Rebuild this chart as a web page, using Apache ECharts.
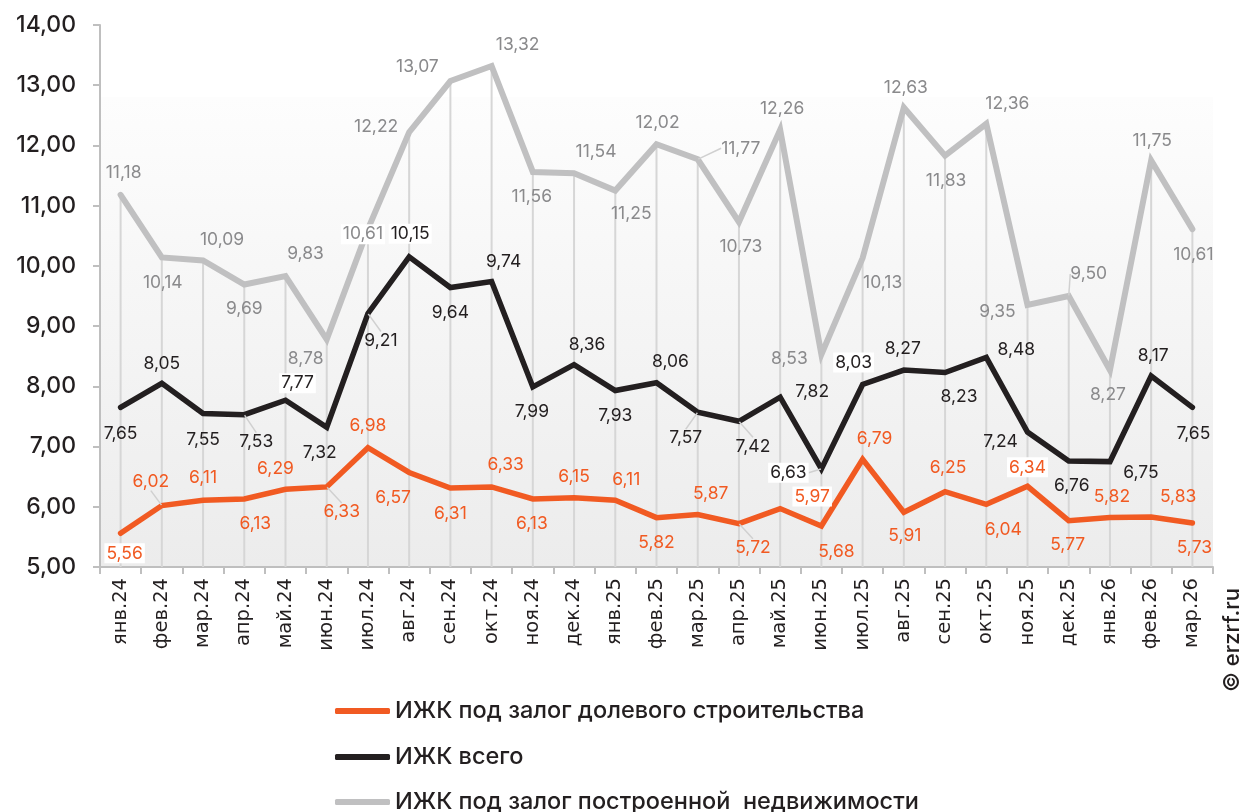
<!DOCTYPE html>
<html>
<head>
<meta charset="utf-8">
<script src="https://cdn.jsdelivr.net/npm/echarts@6/dist/echarts.min.js"></script>
<style>
  html, body { margin: 0; padding: 0; background: #fff; }
  #chart { width: 1244px; height: 812px; }
</style>
</head>
<body>
<div id="chart"></div>
<script>
// Месяцы
const months = ['янв.24','фев.24','мар.24','апр.24','май.24','июн.24','июл.24','авг.24','сен.24','окт.24','ноя.24','дек.24',
                'янв.25','фев.25','мар.25','апр.25','май.25','июн.25','июл.25','авг.25','сен.25','окт.25','ноя.25','дек.25',
                'янв.26','фев.26','мар.26'];

// ИЖК под залог долевого строительства
const ddu = [5.56, 6.02, 6.11, 6.13, 6.29, 6.33, 6.98, 6.57, 6.31, 6.33, 6.13, 6.15,
             6.11, 5.82, 5.87, 5.72, 5.97, 5.68, 6.79, 5.91, 6.25, 6.04, 6.34, 5.77,
             5.82, 5.83, 5.73];
// ИЖК всего
const total = [7.65, 8.05, 7.55, 7.53, 7.77, 7.32, 9.21, 10.15, 9.64, 9.74, 7.99, 8.36,
               7.93, 8.06, 7.57, 7.42, 7.82, 6.63, 8.03, 8.27, 8.23, 8.48, 7.24, 6.76,
               6.75, 8.17, 7.65];
// ИЖК под залог построенной недвижимости
const built = [11.18, 10.14, 10.09, 9.69, 9.83, 8.78, 10.61, 12.22, 13.07, 13.32, 11.56, 11.54,
               11.25, 12.02, 11.77, 10.73, 12.26, 8.53, 10.13, 12.63, 11.83, 12.36, 9.35, 9.50,
               8.27, 11.75, 10.61];

// Y-axis ticks
const yTicks = [5, 6, 7, 8, 9, 10, 11, 12, 13, 14];

const seriesNames = ['ИЖК под залог долевого строительства', 'ИЖК всего', 'ИЖК под залог построенной  недвижимости'];

// Label placement (offset of label centre from the point, px)
const offDdu = [[4,20],[-11,-24],[0,-22],[11,25],[-10,-21],[15,25],[0,-22],[-16,25],[0,26],[14,-22],[-1,25],[0,-21],
                [11,-20],[0,25],[13,-21],[14,24],[32,-12],[15,26],[12,-20],[1,24],[3,-24],[17,25],[0,-19],[-1,24],
                [2,-21],[27,-20],[2,25]];
const offTotal = [[0,26],[0,-20],[0,26],[12,27],[12,-17],[-7,25],[13,27],[1,-23],[0,25],[12,-20],[-1,25],[13,-20],
                  [0,25],[14,-21],[-12,26],[14,25],[32,-5],[-33,4],[-9,-22],[-1,-21],[14,24],[30,-8],[-27,10],[3,25],
                  [31,11],[2,-20],[1,26]];
const offBuilt = [[3,-22],[1,25],[19,-21],[0,24],[20,-22],[-21,19],[-5,5],[-33,-5],[-33,-14],[26,-21],[-1,25],[22,-21],
                  [16,23],[1,-22],[43,-11],[2,25],[2,-21],[-32,4],[20,25],[2,-20],[1,25],[21,-20],[-30,7],[20,-22],
                  [-2,25],[1,-20],[1,26]];
const leaders = { 0: [1, 5, 15], 1: [3, 6, 14, 15, 17], 2: [14, 23] };
const boxed = { 0: [0, 16, 22], 1: [4, 7, 17, 18], 2: [6] };
const offsets = [offDdu, offTotal, offBuilt];

const fmt = v => v.toFixed(2).replace('.', ',');
const numFont = 'Inter';

function lineSeries(idx, name, values, color, width, labelColor) {
  return {
    name: name,
    type: 'line',
    z: 3 + idx,
    data: values.map((v, i) => {
      const item = { value: v };
      if (leaders[idx].includes(i)) item.labelLine = { show: true };
      if (boxed[idx].includes(i)) item.label = { backgroundColor: '#ffffff', padding: [1, 2] };
      return item;
    }),
    symbol: 'circle',
    symbolSize: 1,
    showSymbol: true,
    itemStyle: { color: color },
    lineStyle: { color: color, width: width, cap: 'round', join: 'miter' },
    emphasis: { disabled: true },
    label: {
      show: true,
      position: 'inside',
      formatter: p => fmt(p.value),
      color: labelColor,
      fontFamily: numFont,
      fontSize: 17.5,
      align: 'center',
      verticalAlign: 'middle'
    },
    labelLine: { show: false, lineStyle: { color: '#d0d0d0', width: 1.5 } },
    labelLayout: p => {
      const o = offsets[idx][p.dataIndex];
      return { dx: o[0], dy: o[1] };
    }
  };
}

// One legend row per series, stacked under the axis
function legendRow(name, top) {
  return {
    data: [name],
    left: 330,
    top: top,
    itemWidth: 55,
    itemHeight: 6,
    icon: 'roundRect',
    selectedMode: false,
    textStyle: { fontFamily: numFont, fontSize: 23.5, fontWeight: 500, color: '#231f20' }
  };
}

// Drop lines from the highest point of each month down to the axis
const dropTop = months.map((m, i) => Math.max(ddu[i], total[i], built[i]));

const chart = echarts.init(document.getElementById('chart'), null, { renderer: 'canvas' });

chart.setOption({
  animation: false,
  backgroundColor: '#ffffff',
  grid: {
    left: 100, right: 31, top: 25, bottom: 245,
    show: true,
    borderWidth: 0,
    backgroundColor: new echarts.graphic.LinearGradient(0, 0, 0, 1, [
      { offset: 0, color: '#ffffff' },
      { offset: 0.132, color: '#ffffff' },
      { offset: 0.134, color: '#fdfdfd' },
      { offset: 1, color: '#ececec' }
    ])
  },
  legend: [
    legendRow(seriesNames[0], 694),
    legendRow(seriesNames[1], 740),
    legendRow(seriesNames[2], 785)
  ],
  xAxis: {
    type: 'category',
    data: months,
    boundaryGap: true,
    axisLine: { lineStyle: { color: '#bfbfbf', width: 2 } },
    axisTick: { show: true, length: 7, lineStyle: { color: '#bfbfbf', width: 2 } },
    axisLabel: {
      rotate: 90,
      margin: 11,
      interval: 0,
      fontFamily: 'DejaVu Sans',
      fontSize: 19.5,
      color: '#231f20'
    },
    splitLine: { show: false }
  },
  yAxis: {
    type: 'value',
    min: yTicks[0],
    max: yTicks[yTicks.length - 1],
    interval: 1,
    axisLine: { show: true, lineStyle: { color: '#bfbfbf', width: 2 } },
    axisTick: { show: true, length: 7, lineStyle: { color: '#bfbfbf', width: 2 } },
    axisLabel: {
      margin: 24,
      fontFamily: numFont,
      fontSize: 23,
      fontWeight: 500,
      color: '#231f20',
      formatter: v => fmt(v)
    },
    splitLine: { show: false }
  },
  series: [
    {
      name: 'drop',
      type: 'bar',
      data: dropTop,
      barWidth: 2,
      z: 1,
      itemStyle: { color: '#d6d6d6' },
      emphasis: { disabled: true },
      silent: true
    },
    lineSeries(0, seriesNames[0], ddu, '#f15a22', 5.5, '#f15a22'),
    lineSeries(1, seriesNames[1], total, '#231f20', 5.5, '#231f20'),
    lineSeries(2, seriesNames[2], built, '#c0c0c1', 6, '#8a8a8c')
  ],
  graphic: [{
    type: 'text',
    right: 1,
    top: 588,
    rotation: Math.PI / 2,
    style: {
      text: '© erzrf.ru',
      fontFamily: numFont,
      fontSize: 22,
      fontWeight: 500,
      fill: '#231f20'
    }
  }]
});
</script>
</body>
</html>
